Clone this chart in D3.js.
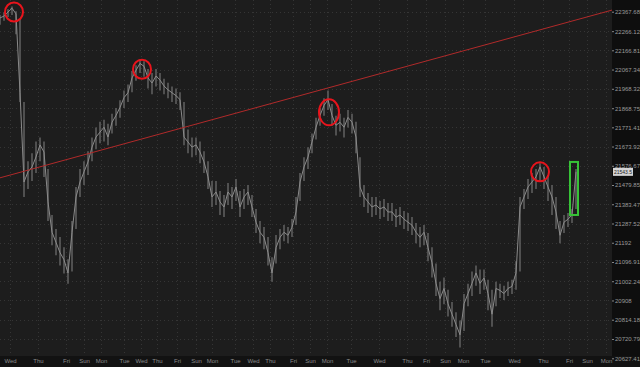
<!DOCTYPE html>
<html>
<head>
<meta charset="utf-8">
<script src="https://cdn.jsdelivr.net/npm/d3@7"></script>
<style>
  body { margin: 0; background: #101010; }
  text { font-family: "Liberation Sans", Arial, sans-serif; }
</style>
</head>
<body>
<svg id="chart" width="640" height="367"></svg>
<script>
// price series, one value per bar
var closes = [
    22335, 22345, 22366, 22386, 22356, 21948, 21495, 21546, 21571, 21621,
    21682, 21646, 21395, 21244, 21194, 21143, 21108, 21043, 21244, 21420,
    21495, 21546, 21596, 21671, 21722, 21747, 21772, 21722, 21797, 21832,
    21873, 21923, 21948, 22024, 22064, 22099, 22084, 22024, 21998, 22034,
    22013, 21983, 21963, 21948, 21933, 21913, 21722, 21697, 21671, 21682,
    21646, 21596, 21521, 21420, 21445, 21395, 21370, 21445, 21420, 21470,
    21370, 21420, 21445, 21370, 21294, 21244, 21219, 21143, 21043, 21168,
    21219, 21244, 21229, 21269, 21345, 21495, 21571, 21621, 21697, 21772,
    21832, 21883, 21913, 21832, 21782, 21797, 21772, 21822, 21797, 21722,
    21470, 21420, 21395, 21370, 21380, 21360, 21370, 21345, 21345, 21319,
    21330, 21309, 21294, 21279, 21244, 21219, 21244, 21168, 21093, 20992,
    20917, 20967, 20892, 20841, 20791, 20741, 20892, 20942, 20992, 21043,
    20992, 21018, 20942, 20841, 20967, 20957, 20942, 20967, 20977, 21043,
    21370, 21420, 21470, 21495, 21521, 21571, 21521, 21470, 21420, 21345,
    21229, 21294, 21309, 21330, 21546
];
var highs = [
    22350, 22365, 22380, 22395, 22370, 22330, 21900, 21600, 21640, 21700,
    21720, 21700, 21560, 21330, 21260, 21220, 21170, 21110, 21300, 21470,
    21560, 21600, 21650, 21720, 21770, 21800, 21810, 21790, 21840, 21870,
    21910, 21960, 21990, 22060, 22090, 22120, 22110, 22070, 22050, 22070,
    22050, 22020, 22000, 21980, 21970, 21950, 21900, 21760, 21720, 21720,
    21700, 21650, 21600, 21500, 21500, 21450, 21430, 21490, 21470, 21510,
    21450, 21460, 21480, 21430, 21360, 21300, 21270, 21220, 21120, 21230,
    21260, 21280, 21270, 21310, 21420, 21540, 21620, 21670, 21740, 21820,
    21870, 21920, 21960, 21890, 21830, 21840, 21820, 21860, 21840, 21800,
    21620, 21480, 21440, 21420, 21420, 21400, 21410, 21390, 21390, 21360,
    21370, 21350, 21340, 21320, 21290, 21270, 21280, 21240, 21170, 21090,
    21000, 21020, 20960, 20900, 20850, 20810, 20940, 20990, 21050, 21080,
    21060, 21060, 21010, 20960, 21000, 20990, 20980, 21000, 21010, 21100,
    21420, 21460, 21510, 21540, 21560, 21590, 21570, 21530, 21480, 21420,
    21300, 21330, 21340, 21360, 21560
];
var lows = [
    22300, 22320, 22340, 22350, 22250, 21900, 21420, 21460, 21500, 21540,
    21600, 21520, 21300, 21180, 21130, 21080, 21040, 20990, 21050, 21260,
    21420, 21480, 21530, 21600, 21660, 21690, 21700, 21680, 21740, 21780,
    21820, 21870, 21900, 21950, 22010, 22050, 22030, 21970, 21940, 21980,
    21960, 21940, 21920, 21900, 21890, 21860, 21680, 21640, 21620, 21630,
    21590, 21540, 21460, 21370, 21380, 21330, 21320, 21380, 21360, 21400,
    21320, 21360, 21380, 21320, 21240, 21190, 21160, 21080, 21000, 21090,
    21160, 21200, 21190, 21220, 21280, 21400, 21500, 21560, 21640, 21710,
    21780, 21830, 21860, 21780, 21730, 21750, 21720, 21770, 21740, 21640,
    21420, 21370, 21340, 21320, 21330, 21310, 21320, 21300, 21300, 21270,
    21280, 21260, 21250, 21230, 21190, 21170, 21180, 21100, 21020, 20930,
    20860, 20890, 20830, 20780, 20730, 20680, 20760, 20880, 20930, 20980,
    20940, 20960, 20860, 20780, 20880, 20920, 20910, 20930, 20940, 20960,
    21050, 21360, 21410, 21440, 21460, 21500, 21460, 21400, 21330, 21260,
    21190, 21240, 21270, 21290, 21360
];

// day labels on the time axis and the bar index where each one sits
var dayLabels = ["Wed", "Thu", "Fri", "Sun", "Mon", "Tue", "Wed", "Thu", "Fri", "Sun",
    "Mon", "Tue", "Wed", "Thu", "Fri", "Sun", "Mon", "Tue", "Wed", "Thu",
    "Fri", "Sun", "Mon", "Tue", "Wed", "Thu", "Fri", "Sun", "Mon"];
var dayPos = [2.5, 9.5, 16.5, 21, 25.25, 31, 35.25, 39.25, 44.25, 49,
    53, 58.75, 63.25, 67.5, 73.25, 77.5, 81.75, 87.75, 94.75, 101.75,
    106.5, 111.25, 115.75, 121.25, 128.5, 135.75, 142.25, 146.75, 151.5];

// price axis ticks
var priceTicks = [22367.68, 22266.12, 22166.81, 22067.34, 21968.32, 21868.75, 21771.41,
    21673.92, 21576.67, 21479.85, 21383.47, 21287.52, 21192, 21096.91, 21002.24,
    20908, 20814.18, 20720.79, 20627.41];

// red trend line (bar index, price)
var trendT = [0, 153];
var trendP = [21516, 22376];

// red circles round the tops
var circleT = [3.5, 35.5, 82.25, 135];
var circleP = [22366, 22069, 21848, 21546];

// green box at the end
var boxT = [142.5, 144.5];
var boxP = [21330, 21596];

var lastPrice = "21543.5";

var W = 640, H = 367;
var plotW = 612, plotH = 356;

var svg = d3.select("#chart");

var x = d3.scaleLinear().domain([0, 153]).range([0, plotW]);
var y = d3.scaleLog().domain([20627.41, 22367.68]).range([358.3, 11.7]);

// backgrounds
svg.append("rect").attr("width", W).attr("height", H).attr("fill", "#0e0e0e");
svg.append("rect").attr("width", plotW).attr("height", plotH).attr("fill", "#1d1d1d");

// grid
svg.append("g").selectAll("line")
    .data(priceTicks)
    .enter().append("line")
    .attr("x1", 0).attr("x2", plotW)
    .attr("y1", function(d) { return Math.round(y(d)) + 0.5; })
    .attr("y2", function(d) { return Math.round(y(d)) + 0.5; })
    .attr("stroke", "#353535")
    .attr("stroke-dasharray", "1,3");

svg.append("g").selectAll("line")
    .data(dayPos)
    .enter().append("line")
    .attr("x1", function(d) { return Math.round(x(d)) + 0.5; })
    .attr("x2", function(d) { return Math.round(x(d)) + 0.5; })
    .attr("y1", 0).attr("y2", plotH)
    .attr("stroke", "#353535")
    .attr("stroke-dasharray", "1,3");

// high-low bars
svg.append("g").selectAll("line")
    .data(closes)
    .enter().append("line")
    .attr("x1", function(d, i) { return x(i); })
    .attr("x2", function(d, i) { return x(i); })
    .attr("y1", function(d, i) { return y(highs[i]); })
    .attr("y2", function(d, i) { return y(lows[i]); })
    .attr("stroke", "#5e5e5e")
    .attr("stroke-width", 1.6);

// price line
var line = d3.line()
    .x(function(d, i) { return x(i); })
    .y(function(d) { return y(d); });

svg.append("path")
    .datum(closes)
    .attr("d", line)
    .attr("fill", "none")
    .attr("stroke", "#8a8a8a")
    .attr("stroke-width", 1);

// trend line
svg.append("line")
    .attr("x1", x(trendT[0])).attr("y1", y(trendP[0]))
    .attr("x2", x(trendT[1])).attr("y2", y(trendP[1]))
    .attr("stroke", "#b02a2a")
    .attr("stroke-width", 1);

// circles
svg.append("g").selectAll("ellipse")
    .data(circleT)
    .enter().append("ellipse")
    .attr("cx", function(d) { return x(d); })
    .attr("cy", function(d, i) { return y(circleP[i]); })
    .attr("rx", function(d, i) { return i == 2 ? 10 : 9; })
    .attr("ry", function(d, i) { return i == 2 ? 13 : 9.5; })
    .attr("fill", "none")
    .attr("stroke", "#e8141c")
    .attr("stroke-width", 2);

// green box
svg.append("rect")
    .attr("x", x(boxT[0])).attr("y", y(boxP[1]))
    .attr("width", x(boxT[1]) - x(boxT[0]))
    .attr("height", y(boxP[0]) - y(boxP[1]))
    .attr("fill", "none")
    .attr("stroke", "#37c337")
    .attr("stroke-width", 2);

// bottom strip
svg.append("rect").attr("y", plotH).attr("width", W).attr("height", H - plotH).attr("fill", "#121212");

// axes
var yAxis = d3.axisRight(y).tickValues(priceTicks).tickSize(2).tickPadding(1)
    .tickFormat(function(d) { return d; });
var gy = svg.append("g").attr("transform", "translate(" + plotW + ",0)").call(yAxis);
gy.select(".domain").remove();
gy.selectAll("line").attr("stroke", "#888");
gy.selectAll("text").attr("fill", "#9a9a9a").attr("font-size", 6);

var xAxis = d3.axisBottom(x).tickValues(dayPos).tickSize(0).tickPadding(3)
    .tickFormat(function(d, i) { return dayLabels[i]; });
var gx = svg.append("g").attr("transform", "translate(0," + plotH + ")").call(xAxis);
gx.select(".domain").remove();
gx.selectAll("text").attr("fill", "#8a8a8a").attr("font-size", 6);

// last price tag
var lastY = y(closes[closes.length - 1]);
svg.append("rect")
    .attr("x", plotW + 1).attr("y", lastY - 4)
    .attr("width", 20).attr("height", 8)
    .attr("fill", "#d4d4d4");
svg.append("text")
    .attr("x", plotW + 2).attr("y", lastY + 2)
    .attr("font-size", 5).attr("fill", "#222")
    .text(lastPrice);
</script>
</body>
</html>
